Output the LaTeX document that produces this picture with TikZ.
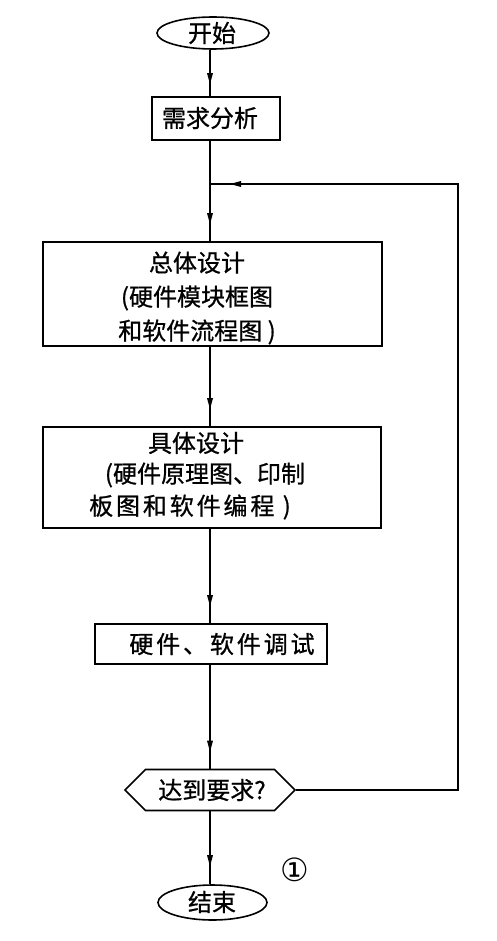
\documentclass[tikz,border=0pt]{standalone}
\usepackage{fontspec}
\setmainfont{Noto Sans CJK SC}[FakeBold=0.8]
\newfontfamily\symfont{DejaVu Sans}
\usetikzlibrary{arrows.meta,shapes.geometric,shapes.symbols,decorations.markings}
\begin{document}
\begin{tikzpicture}[x=1pt,y=1pt,
  conn/.style={line width=1.8pt},
  box/.style={draw,line width=1.8pt,rectangle,inner sep=0pt},
  term/.style={draw,ellipse,line width=1.6pt,inner sep=0pt},
  lbl/.style={font=\fontsize{24}{34}\selectfont,inner sep=0pt,align=center},
  wide/.style={font=\fontsize{24}{34}\selectfont\addfontfeature{LetterSpace=12},inner sep=0pt,align=center},
  midarrow/.style={postaction={decorate},decoration={markings,mark=at position -#1 with {\fill (-11pt,3pt) -- (0pt,0pt) -- (-11pt,-3pt) -- cycle;}}},
  midarrow/.default=17pt
]
\useasboundingbox (0,0) rectangle (496,-941);
\coordinate (col) at (210,0);
\coordinate (loopx) at (458,0);
\coordinate (junc) at (210,-184);

% start
\node[term,minimum width=112,minimum height=32] (start) at (213,-33) {};
\node[lbl] (startt) at (212,-33) {开始};
% requirement analysis
\node[box,minimum width=128,minimum height=43] (box1) at (216,-118.5) {};
\node[lbl] (box1t) at (210,-118) {需求分析};
% overall design
\node[box,minimum width=339,minimum height=104] (box2) at (212.5,-294) {};
\node[lbl] (box2t) at (197,-298) {总体设计\\(硬件模块框图\\和软件流程图 )};
% detailed design
\node[box,minimum width=338,minimum height=101] (box3) at (212,-477.5) {};
\node[lbl] (j1) at (196,-443) {具体设计};
\node[lbl] (j2) at (205,-475) {(硬件原理图、印制};
\node[wide] (j3) at (190,-507) {板图和软件编程 )};
% debugging
\node[box,minimum width=232,minimum height=40] (box4) at (211,-644) {};
\node[wide] (box4t) at (222,-644) {硬件、软件调试};
% decision
\node[draw,signal,signal to=east and west,signal pointer angle=90,minimum width=170,minimum height=41,line width=1.6pt,inner sep=0pt] (dec) at (210,-790) {};
\node[lbl] (dect) at (212,-790) {达到要求?};
% end
\node[term,minimum width=109,minimum height=35] (stop) at (212.5,-902.5) {};
\node[lbl] (stopt) at (212,-902) {结束};
% mark
\node[font=\symfont\fontsize{32}{32}\selectfont,inner sep=0pt] (mark1) at (295,-870) {①};

% connectors
\draw[conn,midarrow=12pt] (start.south -| col) -- (box1.north -| col);
\draw[conn] (box1.south -| col) -- (junc);
\draw[conn,midarrow] (junc) -- (box2.north -| col);
\draw[conn,midarrow] (box2.south -| col) -- (box3.north -| col);
\draw[conn,midarrow] (box3.south -| col) -- (box4.north -| col);
\draw[conn,midarrow] (box4.south -| col) -- (dec.north -| col);
\draw[conn,midarrow=18pt] (dec.south -| col) -- (stop.north -| col);
\draw[conn,midarrow=20pt] (dec.east) -- (dec.east -| loopx) -- (junc -| loopx) -- (junc);
\end{tikzpicture}
\end{document}
